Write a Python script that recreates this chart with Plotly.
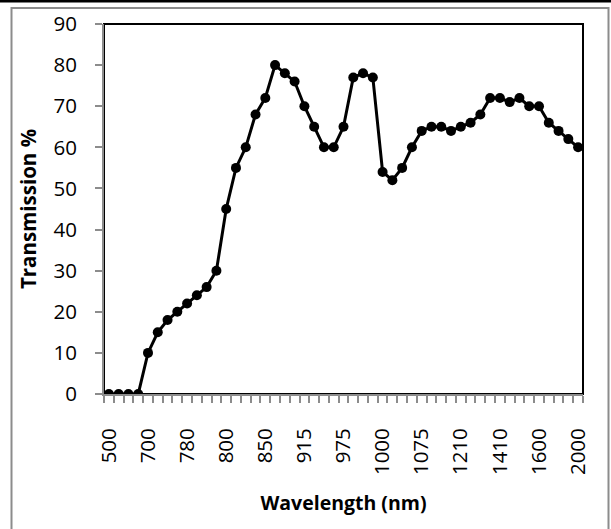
import plotly.graph_objects as go

# Data
tick_labels = ["500", "700", "780", "800", "850", "915", "975", "1000", "1075", "1210", "1410", "1600", "2000"]
transmission = [0, 0, 0, 0, 10, 15, 18, 20, 22, 24, 26, 30,
                45, 55, 60, 68, 72, 80, 78, 76, 70, 65, 60, 60,
                65, 77, 78, 77, 54, 52, 55, 60, 64, 65, 65, 64,
                65, 66, 68, 72, 72, 71, 72, 70, 70, 66, 64, 62, 60]
n = len(transmission)
cat_index = list(range(n))
label_step = 4
tick_positions = cat_index[::label_step]

W, H = 611, 529
L, R, T, B = 104, 28, 24, 135
pw, ph = W - L - R, H - T - B

def px(x):
    return (x - L) / pw

def py(y):
    return (H - B - y) / ph

font = "Open Sans"
gray = "#8c8c8c"

fig = go.Figure(go.Scatter(
    x=cat_index, y=transmission, mode="lines+markers",
    line=dict(color="black", width=3),
    marker=dict(color="black", size=10),
    showlegend=False,
))

fig.update_layout(
    width=W, height=H,
    margin=dict(l=L, r=R, t=T, b=B),
    paper_bgcolor="white", plot_bgcolor="white",
    font=dict(family=font, color="black", size=20),
    xaxis=dict(
        range=[-0.5, n - 0.5], tickmode="array", tickvals=tick_positions,
        ticktext=tick_labels, tickangle=-90, ticks="", showgrid=False,
        zeroline=False, showline=True, linecolor=gray, linewidth=2,
        ticklabelstandoff=24, automargin=False,
        tickfont=dict(size=20.5),
        minor=dict(tickmode="array", tickvals=[i - 0.5 for i in range(n + 1)],
                   ticks="outside", ticklen=7, tickcolor=gray, tickwidth=2, showgrid=False),
        title=dict(text="<b>Wavelength (nm)</b>", font=dict(size=19.5), standoff=22),
    ),
    yaxis=dict(
        range=[0, 90], tickmode="linear", tick0=0, dtick=10,
        ticks="outside", ticklen=7, tickcolor=gray, tickwidth=2,
        showgrid=False, zeroline=False, showline=True, linecolor=gray, linewidth=2,
        ticklabelstandoff=14, automargin=False,
        tickfont=dict(size=20.5),
        title=dict(text="<b>Transmission %</b>", font=dict(size=20.5), standoff=11),
    ),
    shapes=[
        dict(type="rect", xref="paper", yref="paper", x0=0, x1=1, y0=0, y1=1,
             line=dict(color="black", width=2), layer="below"),
        dict(type="rect", xref="paper", yref="paper", x0=px(11.5), x1=px(608.5),
             y0=py(540), y1=py(8), line=dict(color=gray, width=2), layer="below"),
        dict(type="rect", xref="paper", yref="paper", x0=px(0), x1=px(611),
             y0=py(2.5), y1=py(0), line=dict(width=0), fillcolor="black", layer="above"),
    ],
)

fig.write_html("out.html", config={"displayModeBar": False},
               post_script="document.body.style.margin='0';")
